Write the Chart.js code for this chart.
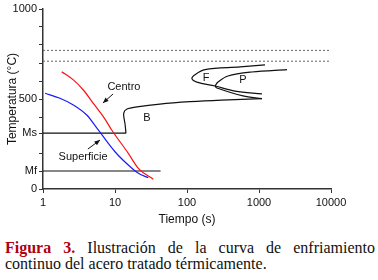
<!DOCTYPE html>
<html>
<head>
<meta charset="utf-8">
<script src="https://cdn.jsdelivr.net/npm/chart.js@4"></script>
<style>
  body { margin: 0; background: #fff; }
  #wrap { position: relative; width: 378px; height: 230px; }
  #caption {
    position: absolute; left: 5px; top: 240px; width: 370px;
    font-family: "Liberation Serif", "Times New Roman", serif; font-size: 16px;
    line-height: 16px; color: #111;
  }
  #caption .l1 { text-align: justify; text-align-last: justify; }
  #caption b { color: #b00010; }
</style>
</head>
<body>
<div id="wrap"><canvas id="cct" width="378" height="230"></canvas></div>
<div id="caption">
  <div class="l1"><b>Figura 3.</b> Ilustración de la curva de enfriamiento</div>
  <div>continuo del acero tratado térmicamente.</div>
</div>
<script>
// cooling curves (time s, temperature °C)
var tCentro = [1.82, 2.64, 3.63, 5.0, 6.88, 9.0, 15.3, 21.1, 34];
var TCentro = [652, 606, 550, 476, 402, 328, 198, 115, 54];
var tSuperficie = [1.07, 1.72, 2.64, 4.05, 5.86, 10.0, 15.3, 21.1, 29];
var TSuperficie = [532, 504, 467, 411, 328, 207, 133, 87, 63];

// transformation lines
var tMs = [1, 14.2];
var TMs = [310, 310];
var tB = [14.2, 13.8, 13.2, 14.7, 20.2, 42, 110, 300, 1100];
var TB = [310, 360, 420, 444, 456, 472, 485, 494, 502];
var tF = [1211, 547, 178, 129, 117, 137, 245, 464, 1100];
var TF = [690, 678, 663, 635, 613, 594, 572, 544, 528];
var tPup = [245, 269, 370, 795, 2450];
var TPup = [572, 594, 628, 650, 663];
var tPlow = [245, 261, 600, 1100];
var TPlow = [572, 561, 517, 502];
var tMf = [1, 43];
var TMf = [100, 100];
var tDotted = [1, 10000];
var TAc3 = [770, 770];
var TAc1 = [710, 710];

var xTicks = [1, 10, 100, 1000, 10000];
var yTicks = [0, 100, 200, 310, 400, 500, 600, 700, 800, 900, 1000];
var yLabels = {0: '0', 100: 'Mf', 310: 'Ms', 500: '500', 1000: '1000'};

function pts(xs, ys) {
  return xs.map(function(x, i) { return {x: x, y: ys[i]}; });
}

function line(xs, ys, color, width, tension, dash) {
  return {
    data: pts(xs, ys), borderColor: color, borderWidth: width,
    pointRadius: 0, tension: tension, borderDash: dash || [], fill: false
  };
}

function smooth(xs, ys, color) {
  var d = line(xs, ys, color, 1.2, 0);
  d.cubicInterpolationMode = 'monotone';
  return d;
}

// labels and arrows placed in data coordinates
var notes = [
  {text: 'Centro', x: 13.3, y: 567},
  {text: 'Superficie', x: 3.6, y: 178},
  {text: 'B', x: 27.8, y: 394},
  {text: 'F', x: 184, y: 617},
  {text: 'P', x: 600, y: 606}
];
var arrows = [
  {x1: 9.4, y1: 528, x2: 6.8, y2: 478},
  {x1: 4.2, y1: 222, x2: 6.2, y2: 272}
];

var notesPlugin = {
  id: 'notes',
  afterDatasetsDraw: function(chart) {
    var ctx = chart.ctx, xs = chart.scales.x, ys = chart.scales.y;
    ctx.save();
    ctx.fillStyle = '#111';
    ctx.strokeStyle = '#111';
    ctx.font = '11px "Liberation Sans", Arial, sans-serif';
    ctx.textAlign = 'center';
    ctx.textBaseline = 'middle';
    notes.forEach(function(n) {
      ctx.fillText(n.text, xs.getPixelForValue(n.x), ys.getPixelForValue(n.y));
    });
    arrows.forEach(function(a) {
      var x1 = xs.getPixelForValue(a.x1), y1 = ys.getPixelForValue(a.y1);
      var x2 = xs.getPixelForValue(a.x2), y2 = ys.getPixelForValue(a.y2);
      var ang = Math.atan2(y2 - y1, x2 - x1);
      ctx.lineWidth = 1;
      ctx.beginPath();
      ctx.moveTo(x1, y1);
      ctx.lineTo(x2, y2);
      ctx.stroke();
      ctx.beginPath();
      ctx.moveTo(x2, y2);
      ctx.lineTo(x2 - 6 * Math.cos(ang - 0.4), y2 - 6 * Math.sin(ang - 0.4));
      ctx.lineTo(x2 - 6 * Math.cos(ang + 0.4), y2 - 6 * Math.sin(ang + 0.4));
      ctx.closePath();
      ctx.fill();
    });
    ctx.restore();
  }
};

var font = {family: '"Liberation Sans", Arial, sans-serif', size: 11};

new Chart(document.getElementById('cct'), {
  type: 'line',
  data: {
    datasets: [
      line(tDotted, TAc3, '#666', 1, 0, [2, 2]),
      line(tDotted, TAc1, '#666', 1, 0, [2, 2]),
      smooth(tCentro, TCentro, '#ff1010'),
      smooth(tSuperficie, TSuperficie, '#1a1aff'),
      line(tMs, TMs, '#111', 1.2, 0),
      line(tB, TB, '#111', 1.2, 0.3),
      line(tF, TF, '#111', 1.2, 0.35),
      line(tPup, TPup, '#111', 1.2, 0.35),
      line(tPlow, TPlow, '#111', 1.2, 0.35),
      line(tMf, TMf, '#111', 1.2, 0)
    ]
  },
  options: {
    responsive: false,
    animation: false,
    layout: {padding: {left: 0, top: 9, right: 47, bottom: 0}},
    plugins: {legend: {display: false}, tooltip: {enabled: false}},
    scales: {
      x: {
        type: 'logarithmic', min: 1, max: 10000,
        afterBuildTicks: function(s) { s.ticks = xTicks.map(function(v) { return {value: v}; }); },
        afterFit: function(s) { s.height = 41; },
        border: {color: '#333', width: 1.5},
        grid: {drawOnChartArea: false, tickLength: 4, color: '#333'},
        ticks: {color: '#111', font: font, padding: 3, maxRotation: 0,
          callback: function(v) { return String(v); }},
        title: {display: true, text: 'Tiempo (s)', color: '#111',
          font: {family: font.family, size: 12}, padding: {top: 0, bottom: 3}}
      },
      y: {
        min: 0, max: 1000,
        afterBuildTicks: function(s) { s.ticks = yTicks.map(function(v) { return {value: v}; }); },
        afterFit: function(s) { s.width = 43; },
        border: {color: '#333', width: 1.5},
        grid: {drawOnChartArea: false, tickLength: 4, color: '#333'},
        ticks: {color: '#111', font: font, padding: 2,
          callback: function(v) { return yLabels[v] !== undefined ? yLabels[v] : ''; }},
        title: {display: true, text: 'Temperatura (°C)', color: '#111',
          font: {family: font.family, size: 12}, padding: {top: 5, bottom: 0}}
      }
    }
  },
  plugins: [notesPlugin]
});
</script>
</body>
</html>
